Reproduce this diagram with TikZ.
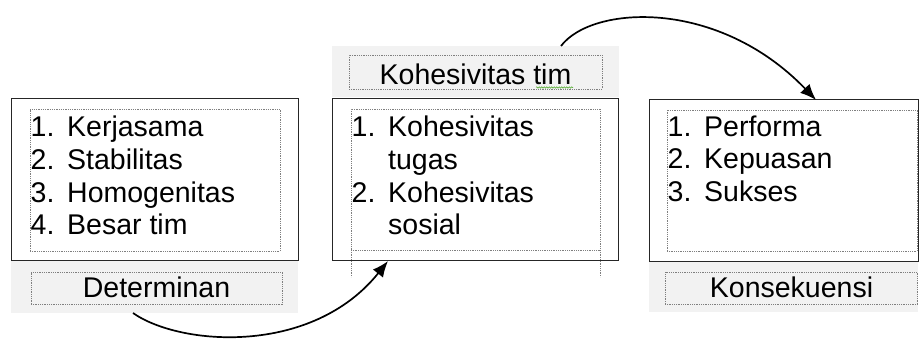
\documentclass[tikz,border=0pt]{standalone}
\usepackage{fontspec}
\setmainfont{Liberation Sans}
\usetikzlibrary{arrows.meta,decorations.pathmorphing}
\definecolor{bandgray}{HTML}{F2F2F2}
\definecolor{dotgray}{HTML}{7F7F7F}
\definecolor{spellgreen}{HTML}{5BAF3A}
\tikzset{
  band/.style={fill=bandgray, draw=none, inner sep=0pt, outer sep=0pt, anchor=north west},
  outerbox/.style={draw=black!85, line width=1pt, fill=white, inner sep=0pt, outer sep=0pt, anchor=north west},
  dotbox/.style={draw=dotgray, line width=0.7pt, dash pattern=on 0.9pt off 0.9pt, inner sep=0pt, outer sep=0pt, anchor=north west},
  dotline/.style={draw=dotgray, line width=0.7pt, dash pattern=on 0.9pt off 0.9pt},
  itemtext/.style={font=\fontsize{28.5}{33}\selectfont, inner sep=0pt, anchor=base west},
  labeltext/.style={font=\fontsize{28.5}{33}\selectfont, inner sep=0pt, anchor=base},
  flow/.style={line width=1.7pt, -{Latex[length=16pt,width=13pt]}},
  spellmark/.style={draw=spellgreen, line width=0.6pt, decorate,
    decoration={snake, amplitude=0.7pt, segment length=2.5pt}},
}
\newcommand{\itemnum}[1]{\makebox[36.5pt][l]{#1}}
\begin{document}
\begin{tikzpicture}[x=1pt,y=-1pt]
\useasboundingbox (0,0) rectangle (920,350);

% ---- Determinan (left)
\node[band, minimum width=287pt, minimum height=53pt] (bandL) at (11,260) {};
\node[outerbox, minimum width=287pt, minimum height=161pt] (boxL) at (11,99) {};
\node[dotbox, minimum width=250pt, minimum height=142pt] (listL) at (30,109) {};
\node[dotbox, minimum width=251pt, minimum height=32pt] (tagL) at (31,272) {};
\node[labeltext] (tagLtext) at (156.5,297.5) {Determinan};
\node[itemtext] (l1) at (30.5,136.7) {\itemnum{1.}Kerjasama};
\node[itemtext] (l2) at (30.5,169.4) {\itemnum{2.}Stabilitas};
\node[itemtext] (l3) at (30.5,202.1) {\itemnum{3.}Homogenitas};
\node[itemtext] (l4) at (30.5,234.8) {\itemnum{4.}Besar tim};

% ---- Kohesivitas tim (middle)
\node[band, minimum width=287pt, minimum height=51pt] (bandM) at (332,46) {};
\node[dotbox, minimum width=253pt, minimum height=34pt] (tagM) at (349,55) {};
\node[labeltext] (tagMtext) at (475.5,85) {Kohesivitas tim};
\draw[spellmark] (536,87.5) -- (573,87.5);
\node[outerbox, minimum width=286pt, minimum height=161pt] (boxM) at (332,99) {};
\node[dotbox, minimum width=249pt, minimum height=141pt] (listM) at (351,109) {};
\draw[dotline] (listM.south west) -- ++(0,27);
\draw[dotline] (listM.south east) -- ++(0,27);
\node[itemtext] (m1) at (351.5,136.7) {\itemnum{1.}Kohesivitas};
\node[itemtext] (m2) at (351.5,169.4) {\itemnum{}tugas};
\node[itemtext] (m3) at (351.5,202.1) {\itemnum{2.}Kohesivitas};
\node[itemtext] (m4) at (351.5,234.8) {\itemnum{}sosial};

% ---- Konsekuensi (right)
\node[band, minimum width=269pt, minimum height=51pt] (bandR) at (649,261) {};
\node[outerbox, minimum width=269pt, minimum height=161pt] (boxR) at (649,100) {};
\node[dotbox, minimum width=250pt, minimum height=141pt] (listR) at (667,110) {};
\node[dotbox, minimum width=252pt, minimum height=32pt] (tagR) at (665,272) {};
\node[labeltext] (tagRtext) at (791.5,297) {Konsekuensi};
\node[itemtext] (r1) at (667.5,136.2) {\itemnum{1.}Performa};
\node[itemtext] (r2) at (667.5,168.9) {\itemnum{2.}Kepuasan};
\node[itemtext] (r3) at (667.5,201.6) {\itemnum{3.}Sukses};

% ---- curved arrows
\draw[flow] ([xshift=122pt]bandL.south west)
  .. controls (180,346) and (312,356) .. ([xshift=56pt,yshift=-1pt]boxM.south west);
\draw[flow] ([xshift=229pt]bandM.north west)
  .. controls (592,5) and (718,-2) .. ([xshift=167pt]boxR.north west);
\end{tikzpicture}
\end{document}
